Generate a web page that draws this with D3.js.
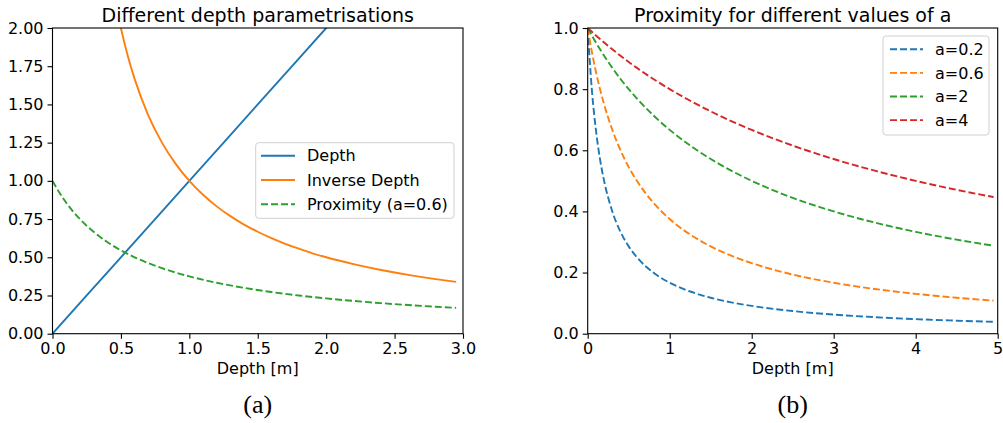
<!DOCTYPE html>
<html><head><meta charset="utf-8">
<script src="https://cdn.jsdelivr.net/npm/d3@7"></script>
<style>body{margin:0;background:#fff}svg{display:block}text{font-family:"DejaVu Sans",sans-serif;fill:#000}</style>
</head><body>
<svg id="c" width="1003" height="423"></svg>
<script>
// ---- data (left panel) ----
const depthX = [0, 0.5, 1.0, 1.5, 2.0, 2.5, 2.95];
const depthY = [0, 0.5, 1.0, 1.5, 2.0, 2.5, 2.95];
const invX = [0.45, 0.5, 0.55, 0.6, 0.7, 0.8, 0.9, 1.0, 1.1, 1.2, 1.3, 1.4, 1.5, 1.6, 1.7, 1.8, 1.9, 2.0, 2.2, 2.4, 2.6, 2.8, 2.95];
const invY = [2.222, 2.0, 1.818, 1.667, 1.429, 1.25, 1.111, 1.0, 0.909, 0.833, 0.769, 0.714, 0.667, 0.625, 0.588, 0.556, 0.526, 0.5, 0.455, 0.417, 0.385, 0.357, 0.339];
const proxX = [0, 0.05, 0.1, 0.2, 0.3, 0.4, 0.5, 0.6, 0.7, 0.8, 0.9, 1.0, 1.2, 1.4, 1.6, 1.8, 2.0, 2.2, 2.4, 2.6, 2.8, 2.95];
const proxY = [1, 0.923, 0.857, 0.75, 0.667, 0.6, 0.545, 0.5, 0.4615, 0.4286, 0.4, 0.375, 0.333, 0.3, 0.2727, 0.25, 0.2308, 0.2143, 0.2, 0.1875, 0.1765, 0.169];
const leftXTicks = [0, 0.5, 1.0, 1.5, 2.0, 2.5, 3.0];
const leftYTicks = [0, 0.25, 0.5, 0.75, 1.0, 1.25, 1.5, 1.75, 2.0];
const leftLegend = ["Depth", "Inverse Depth", "Proximity (a=0.6)"];

// ---- data (right panel) ----
const rightX = [0, 0.05, 0.1, 0.15, 0.2, 0.3, 0.4, 0.5, 0.6, 0.8, 1.0, 1.25, 1.5, 1.75, 2.0, 2.5, 3.0, 3.5, 4.0, 4.5, 4.95];
const a02 = [1, 0.8, 0.667, 0.571, 0.5, 0.4, 0.333, 0.2857, 0.25, 0.2, 0.1667, 0.138, 0.1176, 0.1026, 0.0909, 0.0741, 0.0625, 0.0541, 0.0476, 0.0426, 0.0388];
const a06 = [1, 0.923, 0.857, 0.8, 0.75, 0.667, 0.6, 0.545, 0.5, 0.4286, 0.375, 0.3243, 0.2857, 0.2553, 0.2308, 0.1935, 0.1667, 0.1463, 0.1304, 0.1176, 0.1081];
const a2 = [1, 0.9756, 0.9524, 0.9302, 0.9091, 0.8696, 0.8333, 0.8, 0.7692, 0.7143, 0.6667, 0.6154, 0.5714, 0.5333, 0.5, 0.4444, 0.4, 0.3636, 0.3333, 0.3077, 0.2878];
const a4 = [1, 0.9877, 0.9756, 0.9639, 0.9524, 0.9302, 0.9091, 0.8889, 0.8696, 0.8333, 0.8, 0.7619, 0.7273, 0.6957, 0.6667, 0.6154, 0.5714, 0.5333, 0.5, 0.4706, 0.4469];
const rightXTicks = [0, 1, 2, 3, 4, 5];
const rightYTicks = [0, 0.2, 0.4, 0.6, 0.8, 1.0];
const rightLegend = ["a=0.2", "a=0.6", "a=2", "a=4"];

const colors = ["#1f77b4", "#ff7f0e", "#2ca02c", "#d62728"];
const DASH = "7,3";
const LW = 1.9;
const FS = 16;

const svg = d3.select("#c");

function panel(o) {
  const g = svg.append("g");
  const x = d3.scaleLinear().domain(o.xd).range([o.x0, o.x1]);
  const y = d3.scaleLinear().domain(o.yd).range([o.y1, o.y0]);
  const cid = "clip" + o.id;
  svg.append("clipPath").attr("id", cid).append("rect")
    .attr("x", o.x0).attr("y", o.y0).attr("width", o.x1 - o.x0).attr("height", o.y1 - o.y0);
  const lines = g.append("g").attr("clip-path", `url(#${cid})`);
  o.series.forEach(s => {
    const pts = s.xs.map((v, i) => [v, s.ys[i]]);
    lines.append("path").datum(pts)
      .attr("d", d3.line().x(d => x(d[0])).y(d => y(d[1])).curve(d3.curveMonotoneX))
      .attr("fill", "none").attr("stroke", s.color).attr("stroke-width", LW)
      .attr("stroke-dasharray", s.dash ? DASH : null);
  });
  // axes
  const ax = g.append("g").attr("transform", `translate(0,${o.y1})`)
    .call(d3.axisBottom(x).tickValues(o.xt).tickFormat(o.xf).tickSize(5).tickPadding(4));
  const ay = g.append("g").attr("transform", `translate(${o.x0},0)`)
    .call(d3.axisLeft(y).tickValues(o.yt).tickFormat(o.yf).tickSize(5).tickPadding(4));
  [ax, ay].forEach(a => {
    a.select(".domain").remove();
    a.selectAll("line").attr("stroke", "#000").attr("stroke-width", 1.1);
    a.selectAll("text").attr("font-size", FS).attr("font-family", "DejaVu Sans").attr("fill", "#000");
  });
  g.append("rect").attr("x", o.x0).attr("y", o.y0).attr("width", o.x1 - o.x0).attr("height", o.y1 - o.y0)
    .attr("fill", "none").attr("stroke", "#000").attr("stroke-width", 1.1);
  g.append("text").attr("x", (o.x0 + o.x1) / 2).attr("y", 21.5).attr("text-anchor", "middle")
    .attr("font-size", 19).text(o.title);
  g.append("text").attr("x", (o.x0 + o.x1) / 2).attr("y", 374).attr("text-anchor", "middle")
    .attr("font-size", FS).text("Depth [m]");
  g.append("text").attr("x", (o.x0 + o.x1) / 2).attr("y", 413).attr("text-anchor", "middle")
    .attr("font-size", 26).style("font-family", "'Liberation Serif',serif").text(o.sub);
  // legend
  const L = o.legend;
  g.append("rect").attr("x", L.x).attr("y", L.y).attr("width", L.w).attr("height", L.h)
    .attr("rx", 3).attr("fill", "#fff").attr("fill-opacity", 0.8).attr("stroke", "#d0d0d0").attr("stroke-width", 1);
  o.series.forEach((s, i) => {
    const cy = L.r0 + i * L.dy;
    g.append("line").attr("x1", L.hx0).attr("x2", L.hx1).attr("y1", cy).attr("y2", cy)
      .attr("stroke", s.color).attr("stroke-width", LW).attr("stroke-dasharray", s.dash ? DASH : null);
    g.append("text").attr("x", L.tx).attr("y", cy).attr("dy", "0.36em").attr("font-size", FS).text(s.label);
  });
}

panel({
  id: "a", x0: 52.5, x1: 463, y0: 28, y1: 333.7,
  xd: [0, 3], yd: [0, 2], xt: leftXTicks, yt: leftYTicks,
  xf: d3.format(".1f"), yf: d3.format(".2f"),
  title: "Different depth parametrisations", sub: "(a)",
  series: [
    {xs: depthX, ys: depthY, color: colors[0], dash: false, label: leftLegend[0]},
    {xs: invX, ys: invY, color: colors[1], dash: false, label: leftLegend[1]},
    {xs: proxX, ys: proxY, color: colors[2], dash: true, label: leftLegend[2]}
  ],
  legend: {x: 255.7, y: 142.7, w: 198.3, h: 75.6, r0: 155.7, dy: 24.3, hx0: 261, hx1: 295, tx: 307}
});

panel({
  id: "b", x0: 587.7, x1: 997.7, y0: 28, y1: 333.7,
  xd: [0, 5], yd: [0, 1], xt: rightXTicks, yt: rightYTicks,
  xf: d3.format("d"), yf: d3.format(".1f"),
  title: "Proximity for different values of a", sub: "(b)",
  series: [
    {xs: rightX, ys: a02, color: colors[0], dash: true, label: rightLegend[0]},
    {xs: rightX, ys: a06, color: colors[1], dash: true, label: rightLegend[1]},
    {xs: rightX, ys: a2, color: colors[2], dash: true, label: rightLegend[2]},
    {xs: rightX, ys: a4, color: colors[3], dash: true, label: rightLegend[3]}
  ],
  legend: {x: 883, y: 36, w: 106, h: 99, r0: 49.3, dy: 23.6, hx0: 890, hx1: 923, tx: 935}
});
</script>
</body></html>
